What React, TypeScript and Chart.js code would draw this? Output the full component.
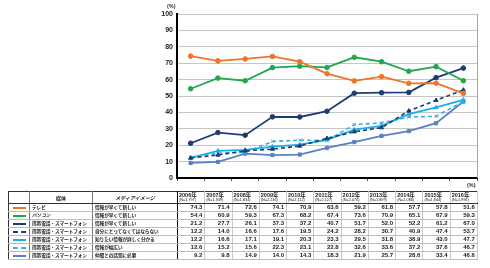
import React, { useEffect, useRef } from "react";
import { Chart, registerables } from "chart.js";

Chart.register(...registerables);

const years = ["2006年", "2007年", "2008年", "2009年", "2010年", "2011年", "2012年", "2013年", "2014年", "2015年", "2016年"];
const nLabels = ["(N=1,797)", "(N=1,949)", "(N=1,834)", "(N=2,236)", "(N=2,112)", "(N=2,127)", "(N=2,076)", "(N=1,899)", "(N=2,086)", "(N=1,844)", "(N=1,996)"];
const yTicks = [0, 10, 20, 30, 40, 50, 60, 70, 80, 90, 100];

const mediaNames = ["テレビ", "パソコン", "携帯電話・スマートフォン", "携帯電話・スマートフォン", "携帯電話・スマートフォン", "携帯電話・スマートフォン", "携帯電話・スマートフォン"];
const imageNames = ["情報が早くて新しい", "情報が早くて新しい", "情報が早くて新しい", "自分にとってなくてはならない", "知りたい情報が詳しく分かる", "情報が幅広い", "仲間との話題に必要"];

const tvFast = [74.3, 71.4, 72.6, 74.1, 70.9, 63.6, 59.2, 61.8, 57.7, 57.8, 51.6];
const pcFast = [54.4, 60.9, 59.3, 67.3, 68.2, 67.4, 73.6, 70.9, 65.1, 67.9, 59.3];
const mobileFast = [21.2, 27.7, 26.1, 37.3, 37.2, 40.7, 51.7, 52.0, 52.2, 61.2, 67.0];
const mobileEssential = [12.2, 14.0, 16.6, 17.6, 19.5, 24.2, 28.2, 30.7, 40.9, 47.4, 53.7];
const mobileDetailed = [12.2, 16.6, 17.1, 19.1, 20.3, 23.3, 29.5, 31.8, 38.9, 43.0, 47.7];
const mobileBroad = [12.6, 15.2, 15.6, 22.3, 23.1, 22.8, 32.6, 33.6, 37.2, 37.6, 46.7];
const mobileTopics = [9.2, 9.8, 14.9, 14.0, 14.3, 18.3, 21.9, 25.7, 28.6, 33.4, 46.6];

const seriesValues = [tvFast, pcFast, mobileFast, mobileEssential, mobileDetailed, mobileBroad, mobileTopics];
const seriesColors = ["#EE7426", "#22A650", "#1F3C72", "#1F3C72", "#1CAEE8", "#34AEE6", "#5A80C2"];
const seriesDashed = [false, false, false, true, false, true, false];
const seriesMarkers = ["circle", "circle", "circle", "triangle", "triangle", "crossRot", "rect"];

const FONT = "'Liberation Sans', Arial, 'Noto Sans CJK JP', sans-serif";
const JP = "'Noto Sans CJK JP', 'Liberation Sans', sans-serif";

const rightBorder = {
  id: "rightBorder",
  afterDraw(chart: any) {
    const { ctx, chartArea } = chart;
    ctx.save();
    ctx.strokeStyle = "#a6a6a6";
    ctx.lineWidth = 1;
    ctx.beginPath();
    ctx.moveTo(chartArea.right + 0.5, chartArea.top);
    ctx.lineTo(chartArea.right + 0.5, chartArea.bottom);
    ctx.stroke();
    ctx.restore();
  },
};

export default function App() {
  const ref = useRef<HTMLCanvasElement>(null);

  useEffect(() => {
    if (!ref.current) return;
    const chart = new Chart(ref.current, {
      type: "line",
      data: {
        labels: years,
        datasets: seriesValues.map((vals, i) => ({
          label: mediaNames[i] + " " + imageNames[i],
          data: vals,
          borderColor: seriesColors[i],
          backgroundColor: seriesColors[i],
          borderWidth: seriesDashed[i] ? 1.6 : 1.8,
          borderDash: seriesDashed[i] ? [4, 3] : [],
          pointStyle: seriesMarkers[i] as any,
          pointRadius: 2.3,
          pointBorderWidth: 1,
          tension: 0,
          fill: false,
        })),
      },
      options: {
        responsive: false,
        animation: false,
        devicePixelRatio: 1,
        layout: { padding: { left: 0, right: 13, top: 14, bottom: 0 } },
        plugins: { legend: { display: false }, tooltip: { enabled: false }, title: { display: false } },
        scales: {
          x: {
            offset: true,
            ticks: { display: false },
            grid: { offset: true, drawOnChartArea: false, drawTicks: true, tickLength: 3, color: "#555" },
            border: { color: "#000", width: 2 },
            afterFit: (s: any) => { s.height = 12; },
          },
          y: {
            min: 0,
            max: 100,
            afterBuildTicks: (s: any) => { s.ticks = yTicks.map((v) => ({ value: v })); },
            ticks: { padding: 4, color: "#222", font: { family: FONT, size: 7, weight: "bold" } },
            grid: { color: "#c6c6c6", lineWidth: 1, drawTicks: false },
            border: { color: "#000", width: 2 },
            afterFit: (s: any) => { s.width = 177; },
          },
        },
      },
      plugins: [rightBorder],
    });
    return () => chart.destroy();
  }, []);

  const colW = [21, 63, 85];
  const yearW = 300 / years.length;
  const cellBase: React.CSSProperties = {
    padding: 0,
    overflow: "hidden",
    whiteSpace: "nowrap",
    fontWeight: "bold",
    color: "#222",
  };
  const hLine = "1px solid #bdbdbd";
  const vLine = "1px solid #c8c8c8";
  const jpCell: React.CSSProperties = { fontSize: 4.7, lineHeight: "7px", letterSpacing: -0.1, paddingLeft: 2 };

  return (
    <div style={{ position: "fixed", left: 0, top: 0, width: 490, height: 268, background: "#fff", fontFamily: FONT }}>
      <canvas ref={ref} width={490} height={190} style={{ position: "absolute", left: 0, top: 0, width: 490, height: 190 }} />
      <div style={{ position: "absolute", left: 167, top: 3, fontSize: 5.5, fontWeight: "bold", color: "#333" }}>(%)</div>
      <div style={{ position: "absolute", left: 467, top: 182, fontSize: 5.5, fontWeight: "bold", color: "#333" }}>(%)</div>
      <table
        style={{
          position: "absolute",
          left: 8,
          top: 191,
          width: 469,
          borderCollapse: "collapse",
          tableLayout: "fixed",
          border: "1px solid #333",
          fontFamily: JP,
        }}
      >
        <colgroup>
          {colW.map((w, i) => <col key={"c" + i} style={{ width: w }} />)}
          {years.map((y) => <col key={y} style={{ width: yearW }} />)}
        </colgroup>
        <thead>
          <tr style={{ height: 12 }}>
            <th style={{ ...cellBase, borderRight: "1px solid #777", borderBottom: "1px solid #333" }}></th>
            <th style={{ ...cellBase, fontSize: 5, textAlign: "center", borderRight: "1px solid #777", borderBottom: "1px solid #333" }}>媒体</th>
            <th style={{ ...cellBase, fontSize: 5, textAlign: "center", fontStyle: "italic", borderRight: "1.5px solid #000", borderBottom: "1px solid #333" }}>メディアイメージ</th>
            {years.map((y, i) => (
              <th key={y} style={{ ...cellBase, textAlign: "left", paddingLeft: 1, borderRight: vLine, borderBottom: "1px solid #333", lineHeight: "5px", verticalAlign: "middle" }}>
                <div style={{ fontSize: 5.5, lineHeight: "6px", fontFamily: FONT }}>{y}</div>
                <div style={{ fontSize: 3.8, lineHeight: "4.5px", fontWeight: "normal", fontFamily: FONT }}>{nLabels[i]}</div>
              </th>
            ))}
          </tr>
        </thead>
        <tbody>
          {seriesValues.map((vals, r) => (
            <tr key={r} style={{ height: 8 }}>
              <td style={{ ...cellBase, borderRight: "1px solid #777", borderBottom: hLine, textAlign: "center", verticalAlign: "middle" }}>
                <div
                  style={{
                    margin: "0 auto",
                    width: 13,
                    height: 0,
                    borderTop: seriesDashed[r] ? "2px dashed " + seriesColors[r] : "2px solid " + seriesColors[r],
                  }}
                />
              </td>
              <td style={{ ...cellBase, ...jpCell, borderRight: "1px solid #777", borderBottom: hLine, fontStyle: r === 1 ? "italic" : "normal" }}>{mediaNames[r]}</td>
              <td style={{ ...cellBase, ...jpCell, borderRight: "1.5px solid #000", borderBottom: hLine }}>{imageNames[r]}</td>
              {vals.map((v, c) => (
                <td key={c} style={{ ...cellBase, fontSize: 6, lineHeight: "7px", textAlign: "right", paddingRight: 2, borderRight: vLine, borderBottom: hLine, fontFamily: FONT }}>
                  {v.toFixed(1)}
                </td>
              ))}
            </tr>
          ))}
        </tbody>
      </table>
    </div>
  );
}
